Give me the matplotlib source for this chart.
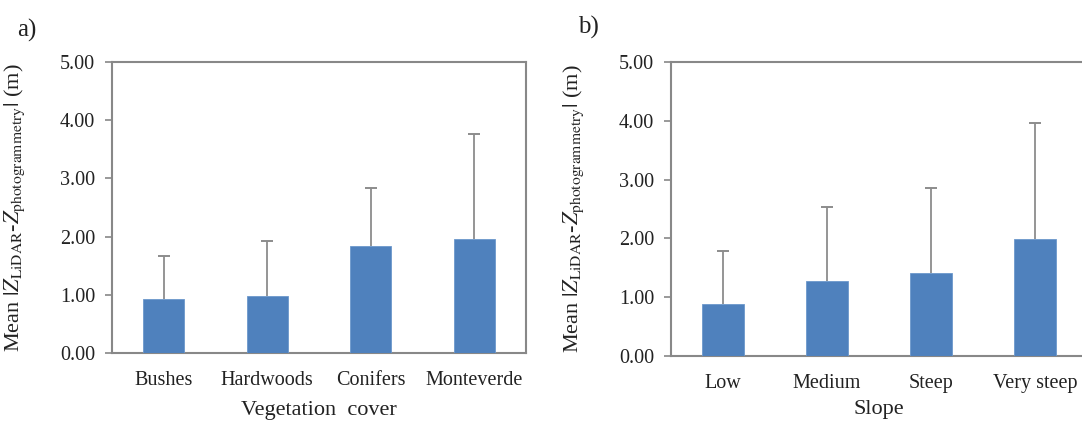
import matplotlib
matplotlib.use('Agg')
import matplotlib.pyplot as plt
import numpy as np

plt.rcParams['font.family'] = ['Liberation Serif', 'DejaVu Serif']
plt.rcParams['mathtext.fontset'] = 'stix'

# ─── Data ──────────────────────────────────────────────────────────────────────
veg_labels = ['Bushes', 'Hardwoods', 'Conifers', 'Monteverde']
veg_mean   = [0.92, 0.98, 1.84, 1.96]
veg_top    = [1.66, 1.92, 2.83, 3.77]   # mean + sd

slope_labels = ['Low', 'Medium', 'Steep', 'Very steep']
slope_mean   = [0.88, 1.27, 1.41, 1.99]
slope_top    = [1.78, 2.54, 2.86, 3.97]

yticks = [0, 1, 2, 3, 4, 5]

# ─── Style ─────────────────────────────────────────────────────────────────────
BAR   = '#4F81BD'
ERR   = '#8C8C8C'
SPINE = '#888888'
TXT   = '#222222'
FS    = 14.5
YLAB  = r'Mean $|Z_{\mathrm{LiDAR}}$-$Z_{\mathrm{photogrammetry}}|$ (m)'

W, H = 1082, 421
fig = plt.figure(figsize=(W / 100, H / 100), dpi=100)
fig.patch.set_facecolor('white')


def px_axes(left, top, right, bottom):
    return fig.add_axes([left / W, (H - bottom) / H, (right - left) / W, (bottom - top) / H])


def draw_panel(ax, labels, mean, top, xlabel, ylab_x, xlab_pad, right_spine=True):
    x = np.arange(len(labels))
    err = np.array(top) - np.array(mean)
    ax.bar(x, mean, width=0.4, color=BAR, edgecolor='#6C98CC', linewidth=0.6, zorder=3)
    # upper error only, cap on top end
    ax.errorbar(x, mean, yerr=[np.zeros_like(err), err], fmt='none',
                ecolor=ERR, elinewidth=1.3, capsize=0, zorder=2)
    ax.plot(x, top, linestyle='none', marker='_', markersize=9,
            markeredgewidth=1.4, color=ERR, zorder=2)
    ax.set_xlim(-0.5, len(labels) - 0.5)
    ax.set_ylim(0, 5)
    ax.set_yticks(yticks)
    ax.set_yticklabels([f'{v:.2f}' for v in yticks], fontsize=FS, color=TXT)
    ax.set_xticks(x)
    ax.set_xticklabels(labels, fontsize=FS, color=TXT)
    ax.tick_params(axis='x', length=0, pad=13)
    ax.tick_params(axis='y', length=5, width=1.2, color=SPINE, direction='out', pad=7)
    for s in ax.spines.values():
        s.set_color(SPINE)
        s.set_linewidth(1.5)
    ax.spines['right'].set_visible(right_spine)
    ax.set_xlabel(xlabel, fontsize=FS + 1.5, color=TXT, labelpad=xlab_pad)
    ax.set_ylabel(YLAB, fontsize=FS + 1.5, color=TXT)
    ax.yaxis.set_label_coords(ylab_x, 0.5)


ax1 = px_axes(112, 62, 526, 353)
draw_panel(ax1, veg_labels, veg_mean, veg_top, 'Vegetation  cover', -0.205, 8)

ax2 = px_axes(671, 62, 1087, 356)
draw_panel(ax2, slope_labels, slope_mean, slope_top, 'Slope', -0.205, 5, right_spine=False)

fig.text(17 / W, 1 - 30 / H, 'a)', fontsize=18, color=TXT, va='center', ha='left')
fig.text(578 / W, 1 - 27 / H, 'b)', fontsize=18, color=TXT, va='center', ha='left')

fig.savefig('out.png', dpi=100, facecolor='white')
